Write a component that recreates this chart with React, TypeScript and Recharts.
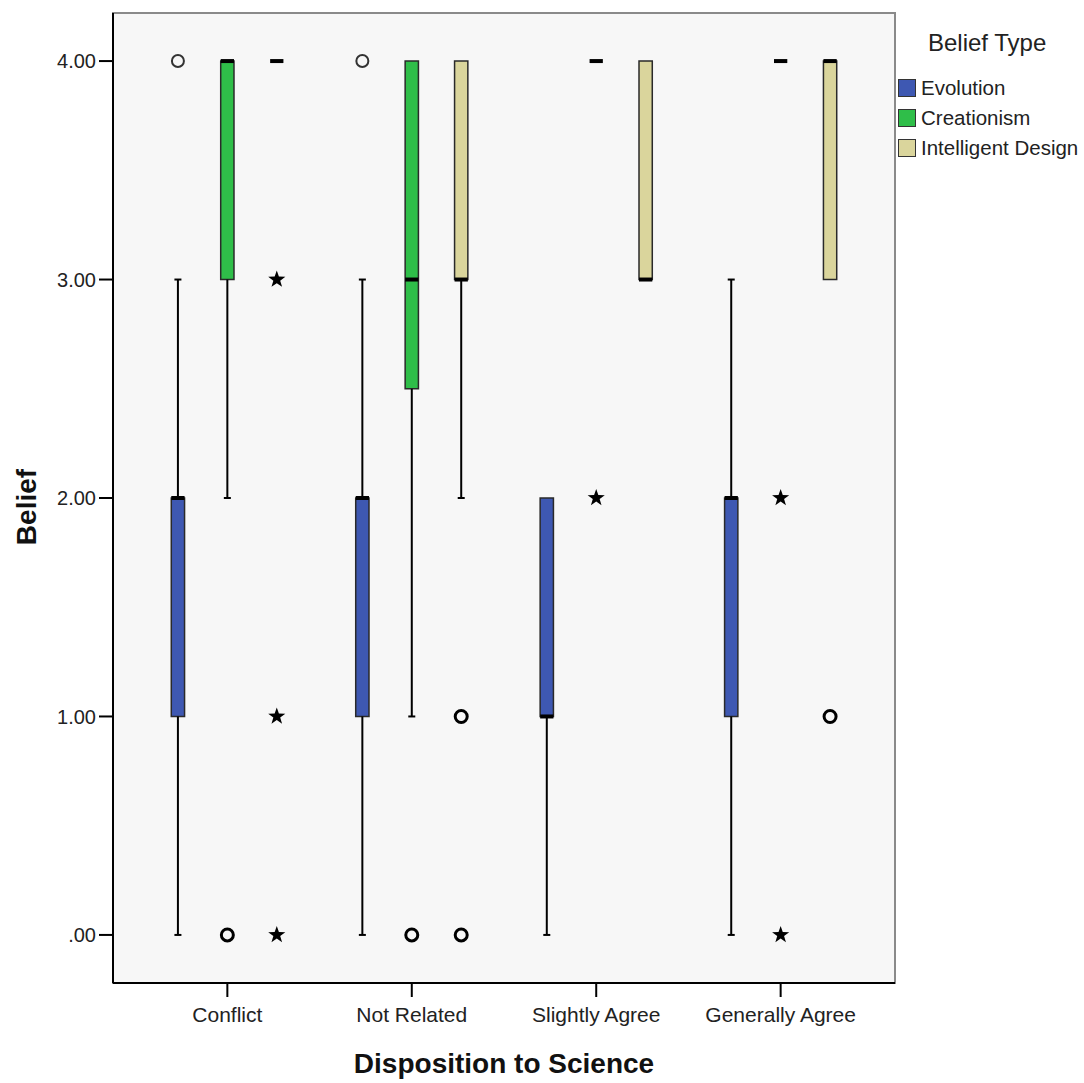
import React from 'react';
import { ComposedChart, XAxis, YAxis, Scatter, ReferenceArea, ReferenceLine, Label } from 'recharts';

const categories = ['Conflict', 'Not Related', 'Slightly Agree', 'Generally Agree'];
const beliefTypes = ['Evolution', 'Creationism', 'Intelligent Design'];
const beliefColors = ['#3E58B2', '#2FBE49', '#DAD59C'];

// [lower whisker, Q1, median, Q3, upper whisker] per category
const evolutionStats = [[0, 1, 2, 2, 3], [0, 1, 2, 2, 3], [0, 1, 1, 2, 2], [0, 1, 2, 2, 3]];
const creationismStats = [[2, 3, 4, 4, 4], [1, 2.5, 3, 4, 4], [4, 4, 4, 4, 4], [4, 4, 4, 4, 4]];
const designStats = [[4, 4, 4, 4, 4], [2, 3, 3, 4, 4], [3, 3, 3, 4, 4], [3, 3, 4, 4, 4]];

// outliers: [category index, value]
const evolutionCircles = [[0, 4], [1, 4]];
const creationismCircles = [[0, 0], [1, 0]];
const designCircles = [[1, 1], [1, 0], [3, 1]];
const creationismStars = [[2, 2], [3, 2], [3, 0]];
const designStars = [[0, 3], [0, 1], [0, 0]];

const X_DOMAIN: [number, number] = [-0.62, 3.62];
const Y_DOMAIN: [number, number] = [-0.22, 4.22];
const GROUP_OFFSET = 0.268;
const BOX_HALF = 0.036;
const CAP_HALF = 0.019;
const FONT = "'Liberation Sans', Arial, sans-serif";

const allStats = [evolutionStats, creationismStats, designStats];
const boxes = allStats.flatMap((stats, si) =>
  stats.map((s, ci) => ({
    x: ci + (si - 1) * GROUP_OFFSET,
    low: s[0], q1: s[1], median: s[2], q3: s[3], high: s[4],
    color: beliefColors[si],
  }))
);

const toPoints = (list: number[][], si: number) =>
  list.map(([ci, y]) => ({ x: ci + (si - 1) * GROUP_OFFSET, y }));

const thinCircles = toPoints(evolutionCircles, 0);
const boldCircles = [...toPoints(creationismCircles, 1), ...toPoints(designCircles, 2)];
const stars = [...toPoints(creationismStars, 1), ...toPoints(designStars, 2)];

const ThinRing = (props: any) => (
  <circle cx={props.cx} cy={props.cy} r={6} fill="none" stroke="#333" strokeWidth={2} />
);
const BoldRing = (props: any) => (
  <circle cx={props.cx} cy={props.cy} r={6} fill="none" stroke="#000" strokeWidth={3} />
);
const Star = (props: any) => {
  const { cx, cy } = props;
  const pts: string[] = [];
  for (let i = 0; i < 10; i++) {
    const r = i % 2 === 0 ? 9 : 3.6;
    const a = -Math.PI / 2 + (i * Math.PI) / 5;
    pts.push(`${cx + r * Math.cos(a)},${cy + r * Math.sin(a)}`);
  }
  return <polygon points={pts.join(' ')} fill="#000" />;
};

const BeliefLabel = (props: any) => {
  const vb = props.viewBox || { x: 0, y: 13, width: 113, height: 970 };
  const cx = 26;
  const cy = vb.y + vb.height / 2 + 9;
  return (
    <text
      x={cx}
      y={cy}
      transform={`rotate(-90 ${cx} ${cy})`}
      textAnchor="middle"
      dominantBaseline="central"
      fontSize={28}
      fontWeight="bold"
      fontFamily={FONT}
      fill="#111"
    >
      Belief
    </text>
  );
};

export default function App() {
  return (
    <div style={{ position: 'absolute', left: 0, top: 0, width: 1084, height: 1083, background: '#fff' }}>
      <ComposedChart width={1084} height={1083} margin={{ top: 13, right: 189, bottom: 0, left: 0 }}>
        <XAxis
          type="number"
          dataKey="x"
          domain={X_DOMAIN}
          allowDataOverflow
          ticks={[0, 1, 2, 3]}
          interval={0}
          tickFormatter={(v: number) => categories[v]}
          height={100}
          tickSize={14}
          tickMargin={10}
          axisLine={{ stroke: '#000', strokeWidth: 2 }}
          tickLine={{ stroke: '#000', strokeWidth: 2 }}
          tick={{ fill: '#222', fontSize: 21, fontFamily: FONT }}
        >
          <Label
            value="Disposition to Science"
            position="insideBottom"
            offset={10}
            style={{ fontSize: 28, fontWeight: 'bold', fill: '#111', fontFamily: FONT }}
          />
        </XAxis>
        <YAxis
          type="number"
          domain={Y_DOMAIN}
          allowDataOverflow
          ticks={[0, 1, 2, 3, 4]}
          interval={0}
          tickFormatter={(v: number) => (v === 0 ? '.00' : v.toFixed(2))}
          width={113}
          tickSize={14}
          tickMargin={3}
          axisLine={{ stroke: '#000', strokeWidth: 2 }}
          tickLine={{ stroke: '#000', strokeWidth: 2 }}
          tick={{ fill: '#222', fontSize: 20, fontFamily: FONT }}
        >
          <Label content={BeliefLabel} />
        </YAxis>

        <ReferenceArea
          x1={X_DOMAIN[0]}
          x2={X_DOMAIN[1]}
          y1={Y_DOMAIN[0]}
          y2={Y_DOMAIN[1]}
          fill="#F7F7F7"
          fillOpacity={1}
          stroke="#8a8a8a"
          strokeWidth={2}
        />

        {boxes.map((b, i) => (b.low < b.q1 ? (
          <ReferenceLine key={`wl${i}`} segment={[{ x: b.x, y: b.low }, { x: b.x, y: b.q1 }]} stroke="#000" strokeWidth={2} />
        ) : null))}
        {boxes.map((b, i) => (b.high > b.q3 ? (
          <ReferenceLine key={`wh${i}`} segment={[{ x: b.x, y: b.q3 }, { x: b.x, y: b.high }]} stroke="#000" strokeWidth={2} />
        ) : null))}
        {boxes.map((b, i) => (b.low < b.q1 ? (
          <ReferenceLine key={`cl${i}`} segment={[{ x: b.x - CAP_HALF, y: b.low }, { x: b.x + CAP_HALF, y: b.low }]} stroke="#000" strokeWidth={2} />
        ) : null))}
        {boxes.map((b, i) => (b.high > b.q3 ? (
          <ReferenceLine key={`ch${i}`} segment={[{ x: b.x - CAP_HALF, y: b.high }, { x: b.x + CAP_HALF, y: b.high }]} stroke="#000" strokeWidth={2} />
        ) : null))}
        {boxes.map((b, i) => (b.q3 > b.q1 ? (
          <ReferenceArea
            key={`b${i}`}
            x1={b.x - BOX_HALF}
            x2={b.x + BOX_HALF}
            y1={b.q1}
            y2={b.q3}
            fill={b.color}
            fillOpacity={1}
            stroke="#2a2a2a"
            strokeWidth={1.5}
          />
        ) : null))}
        {boxes.map((b, i) => (
          <ReferenceLine
            key={`m${i}`}
            segment={[{ x: b.x - BOX_HALF, y: b.median }, { x: b.x + BOX_HALF, y: b.median }]}
            stroke="#000"
            strokeWidth={4}
          />
        ))}

        <Scatter data={thinCircles} dataKey="y" shape={ThinRing} isAnimationActive={false} />
        <Scatter data={boldCircles} dataKey="y" shape={BoldRing} isAnimationActive={false} />
        <Scatter data={stars} dataKey="y" shape={Star} isAnimationActive={false} />
      </ComposedChart>

      <div style={{ position: 'absolute', left: 928, top: 29, fontSize: 24, fontFamily: FONT, color: '#222', whiteSpace: 'nowrap' }}>
        Belief Type
      </div>
      {beliefTypes.map((name, i) => (
        <div
          key={name}
          style={{
            position: 'absolute',
            left: 898,
            top: 78 + i * 30,
            height: 20,
            display: 'flex',
            alignItems: 'center',
            fontFamily: FONT,
            fontSize: 20.5,
            color: '#222',
            whiteSpace: 'nowrap',
          }}
        >
          <span
            style={{
              display: 'inline-block',
              width: 16,
              height: 16,
              background: beliefColors[i],
              border: '1.5px solid #333',
            }}
          />
          <span style={{ marginLeft: 5 }}>{name}</span>
        </div>
      ))}
    </div>
  );
}
